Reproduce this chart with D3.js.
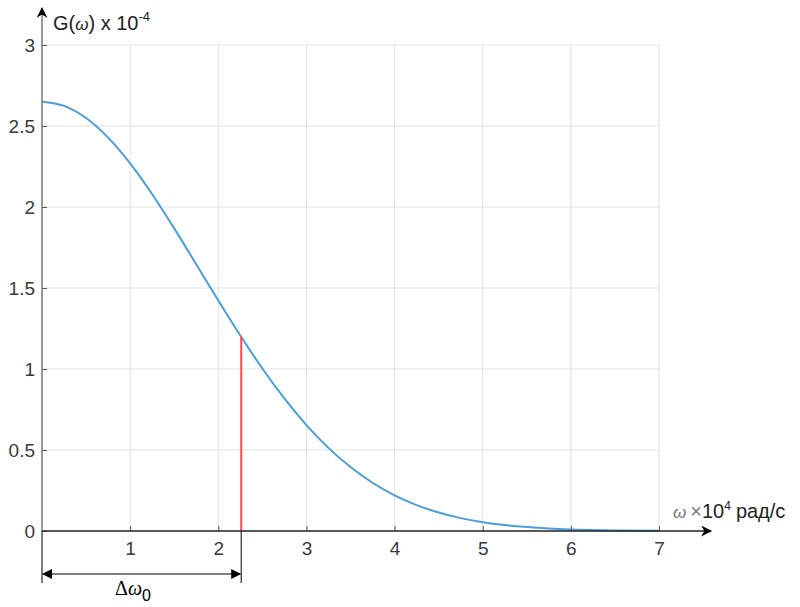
<!DOCTYPE html>
<html>
<head>
<meta charset="utf-8">
<script src="https://cdn.jsdelivr.net/npm/d3@7"></script>
<style>
  body { margin: 0; background: #fff; }
  text { font-family: "Liberation Sans", Arial, sans-serif; }
</style>
</head>
<body>
<div id="chart"></div>
<script>
// spectral density G(w)
var omega = [0, 0.25, 0.5, 0.75, 1, 1.25, 1.5, 1.75, 2, 2.25, 2.5, 2.75, 3, 3.25, 3.5,
  3.75, 4, 4.25, 4.5, 4.75, 5, 5.25, 5.5, 5.75, 6, 6.5, 7];
var gValues = [2.65, 2.624, 2.549, 2.428, 2.269, 2.079, 1.868, 1.646, 1.423, 1.207, 1.003,
  0.818, 0.654, 0.513, 0.395, 0.298, 0.22, 0.16, 0.114, 0.0795, 0.0544, 0.0366, 0.0241,
  0.0156, 0.0099, 0.0037, 0.0013];
var xTicks = [1, 2, 3, 4, 5, 6, 7];
var yTicks = [0, 0.5, 1, 1.5, 2, 2.5, 3];
var markerOmega = 2.26;
var markerG = 1.2;

const width = 800;
const height = 607;

const svg = d3.select("#chart")
  .append("svg")
  .attr("width", width)
  .attr("height", height);

const x = d3.scaleLinear().domain([0, 7]).range([42, 659]);
const y = d3.scaleLinear().domain([0, 3]).range([531, 45]);

// grid
const grid = svg.append("g");
grid.selectAll(".vg")
  .data(xTicks)
  .enter()
  .append("line")
  .attr("x1", function (d) { return x(d); })
  .attr("x2", function (d) { return x(d); })
  .attr("y1", y(0))
  .attr("y2", y(3))
  .attr("stroke", "#e3e3e3")
  .attr("stroke-width", 1);
grid.selectAll(".hg")
  .data(yTicks.slice(1))
  .enter()
  .append("line")
  .attr("x1", x(0))
  .attr("x2", x(7))
  .attr("y1", function (d) { return y(d); })
  .attr("y2", function (d) { return y(d); })
  .attr("stroke", "#e3e3e3")
  .attr("stroke-width", 1);

// curve
var line = d3.line()
  .x(function (d, i) { return x(omega[i]); })
  .y(function (d) { return y(d); })
  .curve(d3.curveMonotoneX);

svg.append("path")
  .datum(gValues)
  .attr("d", line)
  .attr("fill", "none")
  .attr("stroke", "#4a9edb")
  .attr("stroke-width", 2);

// red marker
svg.append("line")
  .attr("x1", x(markerOmega))
  .attr("x2", x(markerOmega))
  .attr("y1", y(0))
  .attr("y2", y(markerG))
  .attr("stroke", "#ff4b4b")
  .attr("stroke-width", 2);

// arrow markers
const defs = svg.append("defs");
defs.append("marker")
  .attr("id", "ah")
  .attr("viewBox", "0 0 10 10")
  .attr("refX", 9)
  .attr("refY", 5)
  .attr("markerWidth", 15)
  .attr("markerHeight", 11)
  .attr("markerUnits", "userSpaceOnUse")
  .attr("orient", "auto-start-reverse")
  .append("path")
  .attr("d", "M0,0 L10,5 L0,10 L3,5 Z")
  .attr("fill", "#000");
defs.append("marker")
  .attr("id", "ah2")
  .attr("viewBox", "0 0 10 10")
  .attr("refX", 9)
  .attr("refY", 5)
  .attr("markerWidth", 14)
  .attr("markerHeight", 10)
  .attr("markerUnits", "userSpaceOnUse")
  .attr("orient", "auto-start-reverse")
  .append("path")
  .attr("d", "M0,0 L10,5 L0,10 Z")
  .attr("fill", "#000");

// axes
const xAxis = svg.append("g")
  .attr("transform", "translate(0," + y(0) + ")")
  .call(d3.axisBottom(x).tickValues(xTicks).tickSize(-5).tickPadding(11).tickFormat(d3.format("d")));
xAxis.select(".domain").remove();
xAxis.selectAll(".tick line").attr("stroke", "#555");
xAxis.selectAll("text").attr("font-size", 19).attr("fill", "#3a3a3a");

const yAxis = svg.append("g")
  .attr("transform", "translate(" + x(0) + ",0)")
  .call(d3.axisLeft(y).tickValues(yTicks).tickSize(-5).tickPadding(7).tickFormat(d3.format("~g")));
yAxis.select(".domain").remove();
yAxis.selectAll(".tick line").attr("stroke", "#555");
yAxis.selectAll("text").attr("font-size", 19).attr("fill", "#3a3a3a");

svg.append("line")
  .attr("x1", x(0))
  .attr("x2", 711)
  .attr("y1", y(0))
  .attr("y2", y(0))
  .attr("stroke", "#222")
  .attr("stroke-width", 1.5)
  .attr("marker-end", "url(#ah)");

svg.append("line")
  .attr("x1", x(0))
  .attr("x2", x(0))
  .attr("y1", y(0))
  .attr("y2", 8)
  .attr("stroke", "#777")
  .attr("stroke-width", 1.5)
  .attr("marker-end", "url(#ah)");

// axis labels
const yl = svg.append("text")
  .attr("x", 53)
  .attr("y", 30)
  .attr("font-size", 20)
  .attr("fill", "#222");
yl.append("tspan").text("G(");
yl.append("tspan").attr("font-style", "italic").attr("font-size", 17).text("ω");
yl.append("tspan").text(") x 10");
yl.append("tspan").attr("font-size", 13).attr("dy", -9).text("-4");

const xl = svg.append("text")
  .attr("x", 673)
  .attr("y", 518)
  .attr("font-size", 20)
  .attr("fill", "#222");
xl.append("tspan").attr("font-style", "italic").attr("fill", "#777").attr("font-size", 17).text("ω");
xl.append("tspan").attr("fill", "#777").attr("dx", 4).text("×");
xl.append("tspan").text("10");
xl.append("tspan").attr("font-size", 12).attr("dy", -8).text("4");
xl.append("tspan").attr("dy", 8).attr("dx", 5).text("рад/с");

// delta omega dimension
[0, markerOmega].forEach(function (v) {
  svg.append("line")
    .attr("x1", x(v))
    .attr("x2", x(v))
    .attr("y1", y(0))
    .attr("y2", 583)
    .attr("stroke", "#000")
    .attr("stroke-width", 1);
});
svg.append("line")
  .attr("x1", x(0) + 1)
  .attr("x2", x(markerOmega) - 1)
  .attr("y1", 574)
  .attr("y2", 574)
  .attr("stroke", "#000")
  .attr("stroke-width", 1)
  .attr("marker-start", "url(#ah2)")
  .attr("marker-end", "url(#ah2)");

const dl = svg.append("text")
  .attr("x", 115)
  .attr("y", 595)
  .attr("font-size", 20)
  .attr("fill", "#000")
  .style("font-family", "'Liberation Serif', 'Times New Roman', serif");
dl.append("tspan").text("Δ");
dl.append("tspan").attr("font-style", "italic").text("ω");
dl.append("tspan").attr("font-size", 16).attr("dy", 6)
  .style("font-family", "'Liberation Sans', Arial, sans-serif").text("0");
</script>
</body>
</html>
